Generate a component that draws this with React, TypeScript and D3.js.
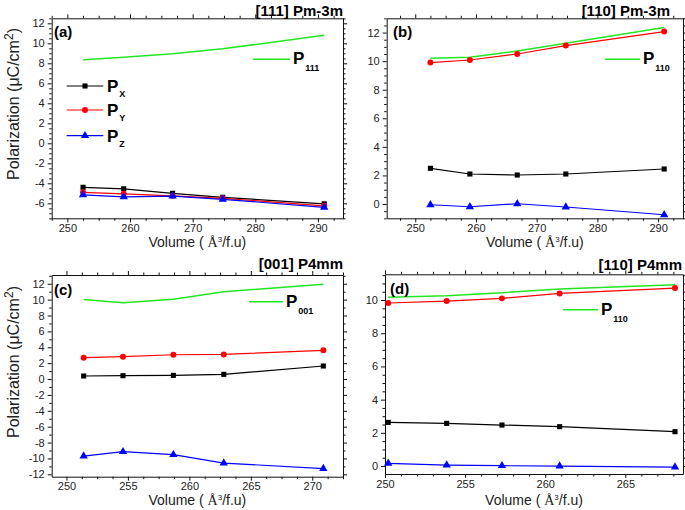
import React, { useEffect, useRef } from "react";
import * as d3 from "d3";

// (a) [111] Pm-3m
const volA = [252.5, 259, 266.8, 274.8, 291];
const pxA = [-4.4, -4.55, -5.0, -5.4, -6.05];
const pyA = [-4.9, -5.05, -5.25, -5.5, -6.25];
const pzA = [-5.15, -5.35, -5.28, -5.6, -6.4];
const p111A = [8.35, 8.6, 8.95, 9.45, 10.8];

// (b) [110] Pm-3m
const volB = [252.5, 259, 266.8, 274.8, 291];
const pxB = [2.5, 2.1, 2.03, 2.1, 2.45];
const pyB = [9.9, 10.08, 10.5, 11.09, 12.07];
const pzB = [-0.05, -0.19, 0.02, -0.21, -0.75];
const p110B = [10.2, 10.27, 10.71, 11.25, 12.35];

// (c) [001] P4mm
const volC = [251.4, 254.6, 258.7, 262.8, 270.9];
const pxC = [0.38, 0.42, 0.46, 0.59, 1.64];
const pyC = [2.69, 2.81, 3.06, 3.1, 3.61];
const pzC = [-9.7, -9.15, -9.53, -10.58, -11.29];
const p001C = [10.0, 9.6, 10.05, 11.0, 11.95];

// (d) [110] P4mm
const volD = [250.2, 253.85, 257.3, 260.9, 268.1];
const pxD = [2.63, 2.57, 2.47, 2.37, 2.07];
const pyD = [9.82, 9.94, 10.1, 10.4, 10.72];
const pzD = [0.16, 0.06, 0.02, 0.0, -0.06];
const p110D = [10.16, 10.26, 10.44, 10.66, 10.92];

const FONT = "'Liberation Sans', Arial, sans-serif";
const GREEN = "#22e622";

const panels = [
  {
    title: "[111] Pm-3m", tag: "(a)", vol: volA, px: pxA, py: pyA, pz: pzA, tot: p111A, sub: "111",
    xDomain: [247.5, 294], yDomain: [-7.5, 12.5], xMajor: 10, xMinor: 2.5, yMajor: 2, yMinor: 0.5,
    box: { left: 51.7, right: 343, top: 18.3, bottom: 218.3 },
    titleX: 343, titleY: 16, tagX: 54, tagY: 37, leg: { x1: 253, x2: 290, y: 59.3 },
    yTitle: 104, xTitleY: 247, xyz: true,
  },
  {
    title: "[110] Pm-3m", tag: "(b)", vol: volB, px: pxB, py: pyB, pz: pzB, tot: p110B, sub: "110",
    xDomain: [245.3, 294.1], yDomain: [-1, 13], xMajor: 10, xMinor: 2.5, yMajor: 2, yMinor: 0.5,
    box: { left: 386.7, right: 683, top: 18.3, bottom: 218.3 },
    titleX: 670, titleY: 16, tagX: 393, tagY: 37, leg: { x1: 605, x2: 640, y: 59.3 },
    yTitle: null, xTitleY: 247, xyz: false,
  },
  {
    title: "[001] P4mm", tag: "(c)", vol: volC, px: pxC, py: pyC, pz: pzC, tot: p001C, sub: "001",
    xDomain: [248.8, 272.5], yDomain: [-12.3, 13.1], xMajor: 5, xMinor: 1.25, yMajor: 2, yMinor: 1,
    box: { left: 51.7, right: 343, top: 275, bottom: 476.7 },
    titleX: 343, titleY: 269, tagX: 54, tagY: 295, leg: { x1: 249, x2: 283, y: 301.7 },
    yTitle: 362, xTitleY: 505, xyz: false,
  },
  {
    title: "[110] P4mm", tag: "(d)", vol: volD, px: pxD, py: pyD, pz: pzD, tot: p110D, sub: "110",
    xDomain: [250, 268.6], yDomain: [-0.48, 11.55], xMajor: 5, xMinor: 1, yMajor: 2, yMinor: 0.5,
    box: { left: 385, right: 683, top: 274.3, bottom: 474 },
    titleX: 682, titleY: 270, tagX: 390, tagY: 294, leg: { x1: 563, x2: 598, y: 309.7 },
    yTitle: null, xTitleY: 505, xyz: false,
  },
];

const series = [
  { key: "px", color: "#000", shape: d3.symbolSquare, size: 26, sub: "X" },
  { key: "py", color: "#ff0000", shape: d3.symbolCircle, size: 28, sub: "Y" },
  { key: "pz", color: "#0000ff", shape: d3.symbolTriangle, size: 30, sub: "Z" },
];

const ticksFor = (dom, step) => {
  const out = [];
  for (let v = Math.ceil(dom[0] / step - 1e-9) * step; v <= dom[1] + 1e-9; v += step) out.push(+v.toFixed(4));
  return out;
};

const App = () => {
  const svg = useRef(null);

  useEffect(() => {
    const root = d3.select(svg.current);
    root.selectAll("*").remove();

    panels.forEach((p) => {
      const g = root.append("g");
      const x = d3.scaleLinear().domain(p.xDomain).range([p.box.left, p.box.right]);
      const y = d3.scaleLinear().domain(p.yDomain).range([p.box.bottom, p.box.top]);

      const xMaj = ticksFor(p.xDomain, p.xMajor);
      const xMin = ticksFor(p.xDomain, p.xMinor).filter((v) => !xMaj.includes(v));
      const yMaj = ticksFor(p.yDomain, p.yMajor);
      const yMin = ticksFor(p.yDomain, p.yMinor).filter((v) => !yMaj.includes(v));

      const axes = [
        { fn: d3.axisBottom, sc: x, at: `translate(0,${p.box.bottom})`, maj: xMaj, min: xMin, label: true, pad: 2 },
        { fn: d3.axisTop, sc: x, at: `translate(0,${p.box.top})`, maj: xMaj, min: xMin, label: false, pad: 2 },
        { fn: d3.axisLeft, sc: y, at: `translate(${p.box.left},0)`, maj: yMaj, min: yMin, label: true, pad: 3 },
        { fn: d3.axisRight, sc: y, at: `translate(${p.box.right},0)`, maj: yMaj, min: yMin, label: false, pad: 3 },
      ];
      axes.forEach((a) => {
        const ag = g.append("g").attr("transform", a.at);
        ag.call(
          a.fn(a.sc).tickValues(a.maj).tickSize(4).tickSizeOuter(0).tickPadding(a.pad)
            .tickFormat((d) => (a.label ? String(d) : ""))
        );
        ag.append("g").call(a.fn(a.sc).tickValues(a.min).tickSize(2.5).tickSizeOuter(0).tickFormat(() => ""))
          .select(".domain").remove();
        ag.attr("font-family", FONT).attr("font-size", 11);
        ag.selectAll("text").attr("fill", "#222");
        ag.selectAll("line,path").attr("stroke", "#111");
      });

      // total polarization (no markers)
      const line = d3.line().x((d) => x(d[0])).y((d) => y(d[1]));
      g.append("path")
        .datum(p.vol.map((v, i) => [v, p.tot[i]]))
        .attr("d", line).attr("fill", "none").attr("stroke", GREEN).attr("stroke-width", 1.5);

      series.forEach((s) => {
        const pts = p.vol.map((v, i) => [v, p[s.key][i]]);
        g.append("path").datum(pts).attr("d", line)
          .attr("fill", "none").attr("stroke", s.color).attr("stroke-width", 1.2);
        g.selectAll(null).data(pts).enter().append("path")
          .attr("d", d3.symbol().type(s.shape).size(s.size))
          .attr("transform", (d) => `translate(${x(d[0])},${y(d[1])})`)
          .attr("fill", s.color);
      });

      // title and tag
      g.append("text").attr("x", p.titleX).attr("y", p.titleY).attr("text-anchor", "end")
        .attr("font-family", FONT).attr("font-weight", "bold").attr("font-size", 15).text(p.title);
      g.append("text").attr("x", p.tagX).attr("y", p.tagY)
        .attr("font-family", FONT).attr("font-weight", "bold").attr("font-size", 15).text(p.tag);

      // green legend
      g.append("line").attr("x1", p.leg.x1).attr("x2", p.leg.x2).attr("y1", p.leg.y).attr("y2", p.leg.y)
        .attr("stroke", GREEN).attr("stroke-width", 1.5);
      const gt = g.append("text").attr("x", p.leg.x2 + 3).attr("y", p.leg.y + 5)
        .attr("font-family", FONT).attr("font-weight", "bold").attr("font-size", 17);
      gt.append("tspan").text("P");
      gt.append("tspan").attr("dy", 7).attr("dx", 1).attr("font-size", 9).text(p.sub);

      if (p.xyz) {
        const ly = [86, 110, 135.7];
        series.forEach((s, i) => {
          g.append("line").attr("x1", 66.7).attr("x2", 103.3).attr("y1", ly[i]).attr("y2", ly[i])
            .attr("stroke", s.color).attr("stroke-width", 1.2);
          g.append("path").attr("d", d3.symbol().type(s.shape).size(s.size))
            .attr("transform", `translate(85,${ly[i]})`).attr("fill", s.color);
          const t = g.append("text").attr("x", 107).attr("y", ly[i] + 6)
            .attr("font-family", FONT).attr("font-weight", "bold").attr("font-size", 17);
          t.append("tspan").text("P");
          t.append("tspan").attr("dy", 5).attr("dx", 1).attr("font-size", 9).text(s.sub);
        });
      }

      // axis titles
      const xt = g.append("text").attr("x", (p.box.left + p.box.right) / 2).attr("y", p.xTitleY)
        .attr("text-anchor", "middle").attr("font-family", FONT).attr("font-size", 14).attr("fill", "#222");
      xt.append("tspan").text("Volume ( ");
      xt.append("tspan").attr("font-family", "'Liberation Serif', serif").text("Å");
      xt.append("tspan").attr("font-size", 8).attr("dy", -5).text("3");
      xt.append("tspan").attr("dy", 5).text("/f.u)");

      if (p.yTitle !== null) {
        const yt = g.append("text").attr("transform", `translate(19,${p.yTitle}) rotate(-90)`)
          .attr("text-anchor", "middle").attr("font-family", FONT).attr("font-size", 16).attr("fill", "#222");
        yt.append("tspan").text("Polarization (μC/cm");
        yt.append("tspan").attr("dy", -6).attr("font-size", 12).text("2");
        yt.append("tspan").attr("dy", 6).text(")");
      }
    });
  }, []);

  return (
    <svg ref={svg} width={685} height={510}
      style={{ position: "absolute", left: 0, top: 0, background: "#fff" }} />
  );
};

export default App;
